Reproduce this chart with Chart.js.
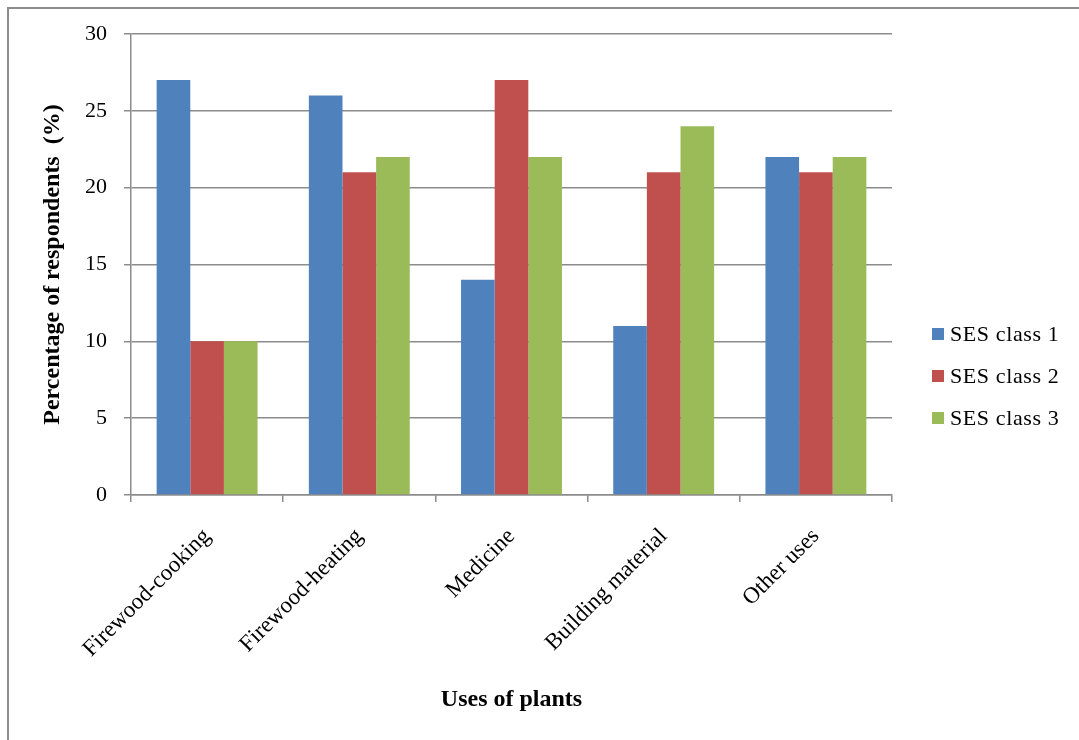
<!DOCTYPE html>
<html>
<head>
<meta charset="utf-8">
<script src="https://cdn.jsdelivr.net/npm/chart.js@4"></script>
<style>
    body { margin: 0; background: #fff; }
    #wrap { position: relative; width: 1079px; height: 740px; }
    #frame {
        position: absolute; left: 7px; top: 7px; right: 0; bottom: 0;
        border-top: 2px solid #8c8c8c; border-left: 2px solid #8c8c8c;
    }
    #chart { position: absolute; left: 0; top: 0; }
    #legend {
        position: absolute; left: 932px; top: 319px;
        font-family: "Liberation Serif", serif; font-size: 22px; color: #000;
        letter-spacing: 0.6px;
    }
    .item { display: flex; align-items: center; height: 30px; margin-bottom: 12px; }
    .box { width: 12px; height: 12px; margin-right: 6px; }
</style>
</head>
<body>
<div id="wrap">
    <div id="frame"></div>
    <canvas id="chart" width="1079" height="740"></canvas>
    <div id="legend"></div>
</div>
<script>
// Chart data
const categories = ['Firewood-cooking', 'Firewood-heating', 'Medicine', 'Building material', 'Other uses'];
const seriesNames = ['SES class 1', 'SES class 2', 'SES class 3'];
const sesClass1 = [27, 26, 14, 11, 22];
const sesClass2 = [10, 21, 27, 21, 21];
const sesClass3 = [10, 22, 22, 24, 22];
const yTicks = [0, 5, 10, 15, 20, 25, 30];

const colors = ['#4F81BD', '#C0504D', '#9BBB59'];
const gridColor = '#8c8c8c';
const serif = '"Liberation Serif", "Times New Roman", serif';

const datasets = [sesClass1, sesClass2, sesClass3].map((values, i) => ({
    label: seriesNames[i],
    data: values,
    backgroundColor: colors[i],
    borderWidth: 0,
    categoryPercentage: 0.663,
    barPercentage: 1.0
}));

new Chart(document.getElementById('chart'), {
    type: 'bar',
    data: { labels: categories, datasets: datasets },
    options: {
        responsive: false,
        animation: false,
        layout: { padding: { left: 0, right: 187, top: 34, bottom: 0 } },
        plugins: {
            legend: { display: false },
            tooltip: { enabled: false }
        },
        scales: {
            x: {
                grid: {
                    offset: true,
                    drawOnChartArea: false,
                    drawTicks: true,
                    tickLength: 7,
                    color: gridColor,
                    lineWidth: 1.5
                },
                border: { color: gridColor, width: 1.5 },
                ticks: {
                    color: '#000',
                    font: { family: serif, size: 23 },
                    minRotation: 45,
                    maxRotation: 45,
                    padding: 21
                },
                title: {
                    display: true,
                    text: 'Uses of plants',
                    color: '#000',
                    font: { family: serif, size: 24, weight: 'bold' },
                    padding: { top: 4, bottom: 26 }
                },
                afterFit: function(scale) { scale.height = 245; }
            },
            y: {
                min: 0,
                max: 30,
                afterBuildTicks: function(scale) {
                    scale.ticks = yTicks.map(v => ({ value: v }));
                },
                grid: {
                    color: gridColor,
                    lineWidth: 1.5,
                    tickLength: 7
                },
                border: { color: gridColor, width: 1.5 },
                ticks: {
                    color: '#000',
                    font: { family: serif, size: 22 },
                    padding: 17
                },
                title: {
                    display: true,
                    text: 'Percentage of respondents  (%)',
                    color: '#000',
                    font: { family: serif, size: 24, weight: 'bold' },
                    padding: { top: 38, bottom: 0 }
                },
                afterFit: function(scale) { scale.width = 131; }
            }
        }
    }
});

// Legend built from the same series
const legend = document.getElementById('legend');
seriesNames.forEach((name, i) => {
    legend.innerHTML += `
        <div class="item">
            <span class="box" style="background:${colors[i]}"></span>
            <span>${name}</span>
        </div>`;
});
</script>
</body>
</html>
